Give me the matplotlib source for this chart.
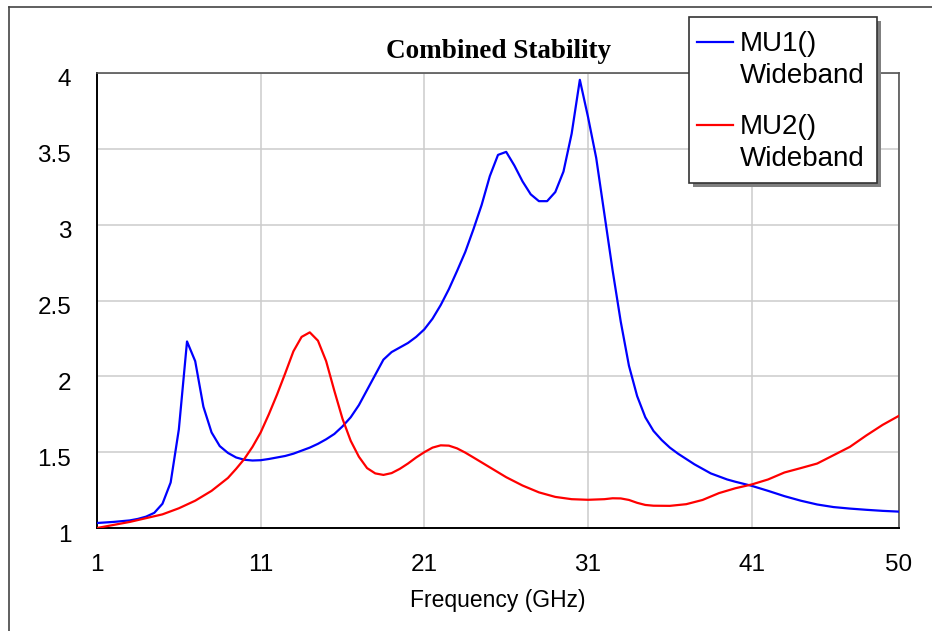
import matplotlib
matplotlib.use("Agg")
import matplotlib.pyplot as plt
from matplotlib.lines import Line2D
from matplotlib.patches import Rectangle
from matplotlib.transforms import ScaledTranslation

# MU1() Wideband
freq_mu1 = [1, 2, 3, 3.5, 4, 4.5, 5, 5.5, 6, 6.5, 7, 7.5, 8, 8.5, 9, 9.5, 10, 10.5,
            11, 11.5, 12, 12.5, 13, 13.5, 14, 14.5, 15, 15.5, 16, 16.5, 17, 17.5,
            18, 18.5, 19, 19.5, 20, 20.5, 21, 21.5, 22, 22.5, 23, 23.5, 24, 24.5,
            25, 25.5, 26, 26.5, 27, 27.5, 28, 28.5, 29, 29.5, 30, 30.5, 31, 31.5,
            32, 32.5, 33, 33.5, 34, 34.5, 35, 35.5, 36, 36.5, 37, 37.5, 38, 38.5,
            39, 39.5, 40, 41, 42, 43, 44, 45, 46, 47, 48, 49, 50]
mu1 = [1.033, 1.04, 1.05, 1.06, 1.075, 1.10, 1.16, 1.30, 1.65, 2.23, 2.10, 1.80,
       1.63, 1.54, 1.495, 1.465, 1.45, 1.445, 1.447, 1.455, 1.465, 1.475, 1.49,
       1.51, 1.53, 1.555, 1.585, 1.62, 1.67, 1.73, 1.81, 1.91, 2.01, 2.11, 2.16,
       2.19, 2.22, 2.26, 2.31, 2.38, 2.47, 2.575, 2.695, 2.82, 2.97, 3.13, 3.32,
       3.46, 3.48, 3.39, 3.285, 3.20, 3.155, 3.155, 3.215, 3.35, 3.60, 3.955,
       3.71, 3.44, 3.07, 2.70, 2.36, 2.07, 1.87, 1.73, 1.64, 1.58, 1.53, 1.49,
       1.455, 1.42, 1.39, 1.36, 1.34, 1.32, 1.305, 1.278, 1.245, 1.21, 1.18,
       1.155, 1.138, 1.128, 1.12, 1.113, 1.108]

# MU2() Wideband
freq_mu2 = [1, 2, 3, 4, 5, 6, 7, 8, 9, 9.5, 10, 10.5, 11, 11.5, 12, 12.5, 13, 13.5,
            14, 14.5, 15, 15.5, 16, 16.5, 17, 17.5, 18, 18.5, 19, 19.5, 20, 20.5,
            21, 21.5, 22, 22.5, 23, 23.5, 24, 25, 26, 27, 28, 29, 30, 31, 32, 32.5,
            33, 33.5, 34, 34.5, 35, 36, 37, 38, 39, 40, 41, 42, 43, 44, 45, 46, 47,
            48, 49, 50]
mu2 = [1.0, 1.02, 1.04, 1.065, 1.09, 1.13, 1.18, 1.245, 1.33, 1.39, 1.455, 1.535,
       1.63, 1.75, 1.88, 2.02, 2.165, 2.26, 2.29, 2.235, 2.10, 1.905, 1.72, 1.575,
       1.47, 1.395, 1.36, 1.35, 1.362, 1.39, 1.425, 1.465, 1.50, 1.53, 1.545,
       1.543, 1.525, 1.497, 1.465, 1.40, 1.335, 1.28, 1.235, 1.205, 1.19, 1.186,
       1.19, 1.196, 1.195, 1.185, 1.166, 1.152, 1.147, 1.146, 1.157, 1.185, 1.23,
       1.262, 1.287, 1.32, 1.366, 1.395, 1.425, 1.48, 1.535, 1.61, 1.68, 1.74]

x_ticks = [1, 11, 21, 31, 41, 50]
y_ticks = [1, 1.5, 2, 2.5, 3, 3.5, 4]
y_ticklabels = ["1", "1.5", "2", "2.5", "3", "3.5", "4"]

W, H = 932, 631
fig = plt.figure(figsize=(W / 100, H / 100), dpi=100)
plt.rcParams['font.family'] = ['Liberation Sans', 'DejaVu Sans']


def fx(px):
    return px / W


def fy(py):
    return 1 - py / H


ax = fig.add_axes([fx(97), fy(528), fx(899) - fx(97), (528 - 73) / H])
ax.plot(freq_mu1, mu1, color='#0000ff', lw=1.6, zorder=3)
ax.plot(freq_mu2, mu2, color='#ff0000', lw=1.6, zorder=3)

ax.set_xlim(1, 50)
ax.set_ylim(1, 4)
ax.set_xticks(x_ticks)
ax.set_yticks(y_ticks)
ax.set_yticklabels(y_ticklabels)
ax.grid(True, color='#cccccc', lw=1.1)
ax.set_axisbelow(True)
ax.tick_params(length=0, labelsize=17.5)
ax.tick_params(axis='y', pad=18.5)
ax.tick_params(axis='x', pad=19)
for lab in ax.get_yticklabels():
    lab.set_transform(lab.get_transform() + ScaledTranslation(0, -0.05, fig.dpi_scale_trans))
ax.set_xlabel('Frequency (GHz)', fontsize=16.5, labelpad=9)

for side in ['left', 'bottom']:
    ax.spines[side].set_color('black')
    ax.spines[side].set_linewidth(1.4)
for side in ['top', 'right']:
    ax.spines[side].set_color('#555555')
    ax.spines[side].set_linewidth(1.2)

# outer frame (only top and left edges visible)
fig.add_artist(Line2D([fx(9), 1], [fy(7), fy(7)], color='#444444', lw=1.2,
                      transform=fig.transFigure))
fig.add_artist(Line2D([fx(9), fx(9)], [fy(7), 0], color='#444444', lw=1.2,
                      transform=fig.transFigure))

fig.text(fx(498), fy(52), 'Combined Stability', ha='center', va='center',
         fontsize=19.5, fontweight='bold', family=['Liberation Serif', 'DejaVu Serif'])

# legend box with shadow
fig.add_artist(Rectangle((fx(693), fy(187)), fx(188), (183 - 17) / H,
                         transform=fig.transFigure, facecolor='#808080',
                         edgecolor='none', zorder=5))
fig.add_artist(Rectangle((fx(689), fy(183)), fx(188), (183 - 17) / H,
                         transform=fig.transFigure, facecolor='white',
                         edgecolor='#333333', lw=1.2, zorder=6))
for y0, col, name in [(42, '#0000ff', 'MU1()'), (125, '#ff0000', 'MU2()')]:
    fig.add_artist(Line2D([fx(697), fx(733)], [fy(y0), fy(y0)], color=col, lw=1.6,
                          transform=fig.transFigure, zorder=7))
    fig.text(fx(740), fy(y0 + 2), name, ha='left', va='center', fontsize=20, zorder=7)
    fig.text(fx(740), fy(y0 + 34), 'Wideband', ha='left', va='center',
             fontsize=20, zorder=7)

fig.savefig('out.png', dpi=100)
